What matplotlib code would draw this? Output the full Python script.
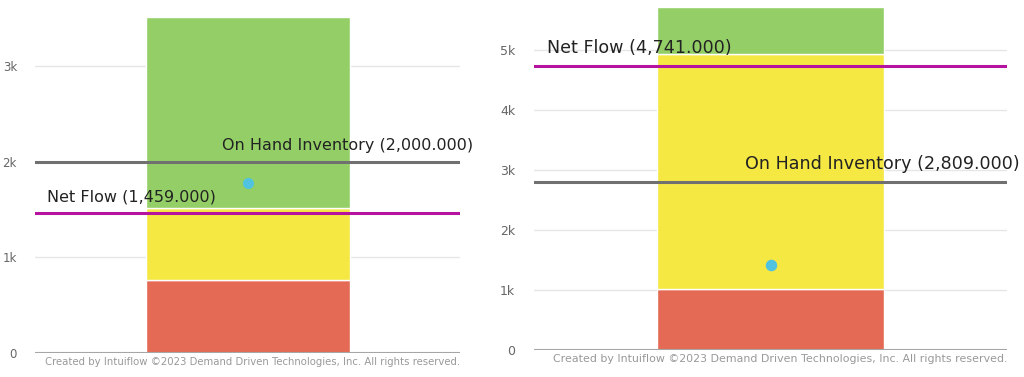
import matplotlib
matplotlib.use("Agg")
import matplotlib.pyplot as plt
from matplotlib.ticker import FuncFormatter

# ---- data ----
zone_names = ["Red", "Yellow", "Green"]
left_zone_tops = [763, 1512, 3511]
right_zone_tops = [1013, 4941, 5731]
left_dot = 1776
right_dot = 1419
left_net_flow = 1459.0
left_on_hand = 2000.0
right_net_flow = 4741.0
right_on_hand = 2809.0
left_ticks = [0, 1000, 2000, 3000]
right_ticks = [0, 1000, 2000, 3000, 4000, 5000]
footer = "Created by Intuiflow \u00a92023 Demand Driven Technologies, Inc. All rights reserved."

zone_colors = ["#e46a55", "#f6e843", "#93cf66"]
dot_color = "#4fc3e0"
nf_color = "#b5129f"
oh_color = "#707070"

W, H = 1024, 377
fig = plt.figure(figsize=(W / 100, H / 100), dpi=100)


def kfmt(v, _):
    return "0" if v == 0 else f"{int(round(v / 1000))}k"


def panel(rect, tops, dot, nf, oh, ticks, ymax, fs, nf_off, oh_off, nf_x, oh_x,
          foot_fs, tick_fs, tick_pad):
    ax = fig.add_axes(rect)
    ax.set_xlim(-0.5, 0.5)
    ax.set_ylim(0, ymax)
    for s in ax.spines.values():
        s.set_visible(False)
    ax.set_yticks(ticks)
    ax.yaxis.set_major_formatter(FuncFormatter(kfmt))
    ax.tick_params(axis="y", length=0, pad=tick_pad, labelsize=tick_fs, labelcolor="#666666")
    ax.set_xticks([])
    ax.grid(axis="y", color="#e6e6e6", linewidth=1)
    ax.set_axisbelow(True)
    bottom = 0
    for top, c in zip(tops, zone_colors):
        ax.bar(0, top - bottom, bottom=bottom, width=0.48, color=c,
               edgecolor="white", linewidth=1, zorder=2)
        bottom = top
    ax.axhline(0, color="#a6a6a6", linewidth=1.5, zorder=3)
    ax.axhline(oh, color=oh_color, linewidth=2.2, zorder=4)
    ax.axhline(nf, color=nf_color, linewidth=2.2, zorder=4)
    ax.scatter([0], [dot], s=fs * 5.5, color=dot_color, zorder=5, linewidths=0)
    ax.annotate(f"Net Flow ({nf:,.3f})", xy=(nf_x, nf), xytext=(0, nf_off),
                textcoords="offset pixels", fontsize=fs, va="center", ha="left",
                color="#222222", zorder=6, annotation_clip=False)
    ax.annotate(f"On Hand Inventory ({oh:,.3f})", xy=(oh_x, oh), xytext=(0, oh_off),
                textcoords="offset pixels", fontsize=fs, va="center", ha="left",
                color="#222222", zorder=6, annotation_clip=False)
    ax.annotate(footer, xy=(1, 0), xycoords="axes fraction", xytext=(0, -9),
                textcoords="offset pixels", ha="right", va="center",
                fontsize=foot_fs, color="#999999", annotation_clip=False)
    return ax


panel([35 / W, 24 / H, 425 / W, 353 / H], left_zone_tops, left_dot, left_net_flow,
      left_on_hand, left_ticks, 3690, 11.5, 16, 16, -0.472, -0.06, 7.25, 8.5, 13)
panel([534 / W, 27 / H, 473 / W, 350 / H], right_zone_tops, right_dot, right_net_flow,
      right_on_hand, right_ticks, 5843, 12.6, 18, 18, -0.4725, -0.054, 7.9, 9, 13.5)

fig.savefig("out.png", dpi=100)
